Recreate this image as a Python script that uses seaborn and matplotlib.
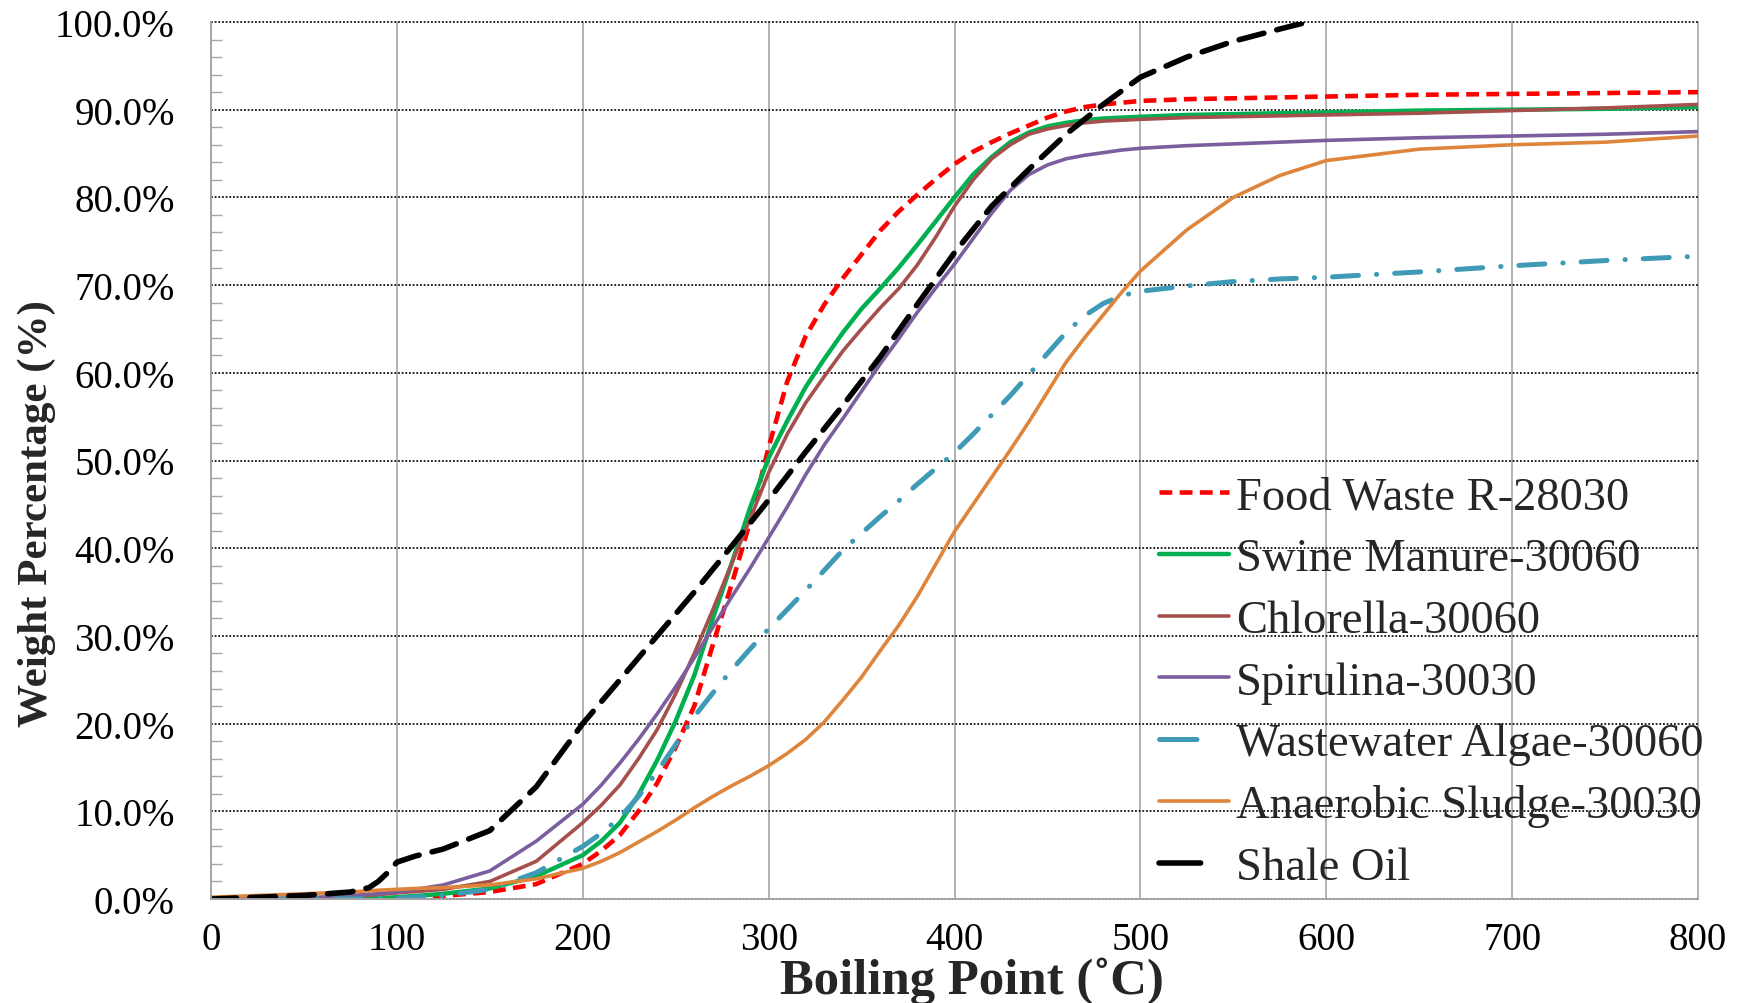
import matplotlib
matplotlib.use("Agg")
import matplotlib.pyplot as plt
from matplotlib.lines import Line2D
from matplotlib.ticker import MultipleLocator, FuncFormatter
import seaborn as sns
import pandas as pd

# ---------------- data ----------------
temp = [0, 25, 50, 75, 90, 100, 110, 125, 150, 175, 200, 210, 220, 230, 240, 250, 260, 270,
        280, 290, 300, 310, 320, 330, 340, 350, 360, 370, 380, 390, 400, 410, 420, 430, 440,
        450, 460, 470, 480, 490, 500, 525, 550, 575, 600, 650, 700, 750, 800]

food_waste = [0, 0, 0, 0, 0, 0.1, 0.2, 0.35, 0.8, 1.7, 4.0, 5.5, 7.3, 10.0, 13.2, 17.3, 22.0,
              29.0, 35.8, 43.0, 51.5, 59.0, 64.2, 67.8, 70.8, 73.5, 76.2, 78.4, 80.3, 82.1,
              83.8, 85.2, 86.3, 87.3, 88.2, 89.1, 89.8, 90.3, 90.6, 90.8, 91.0, 91.2, 91.3,
              91.4, 91.5, 91.7, 91.8, 91.9, 92.0]
swine_manure = [0, 0, 0, 0, 0.1, 0.2, 0.35, 0.6, 1.2, 2.6, 5.0, 6.6, 8.7, 11.9, 15.8, 20.3,
                25.5, 32.0, 38.2, 44.6, 50.3, 54.5, 58.4, 61.6, 64.6, 67.3, 69.6, 72.0, 74.6,
                77.3, 80.0, 82.6, 84.6, 86.3, 87.4, 88.1, 88.5, 88.8, 89.0, 89.1, 89.2, 89.4,
                89.5, 89.6, 89.7, 89.9, 90.0, 90.1, 90.3]
chlorella = [0, 0, 0.1, 0.3, 0.5, 0.7, 0.85, 1.1, 2.0, 4.3, 8.7, 10.7, 13.0, 16.0, 19.3, 23.4,
             28.0, 33.0, 38.2, 43.3, 48.6, 53.0, 56.6, 59.6, 62.5, 65.0, 67.4, 69.6, 72.3,
             75.5, 79.0, 82.0, 84.4, 86.0, 87.2, 87.8, 88.2, 88.5, 88.7, 88.8, 88.9, 89.1,
             89.2, 89.3, 89.4, 89.6, 89.9, 90.2, 90.6]
spirulina = [0, 0, 0.1, 0.4, 0.6, 0.8, 1.1, 1.6, 3.2, 6.6, 10.8, 13.0, 15.5, 18.2, 21.1, 24.2,
             27.5, 31.0, 34.4, 37.7, 41.2, 44.7, 48.4, 51.8, 54.8, 57.9, 61.0, 63.9, 66.9,
             69.7, 72.4, 75.3, 78.2, 80.8, 82.6, 83.7, 84.4, 84.8, 85.1, 85.4, 85.6, 85.9,
             86.1, 86.3, 86.5, 86.8, 87.0, 87.2, 87.5]
wastewater_algae = [0, 0, 0, 0, 0.1, 0.1, 0.2, 0.4, 1.1, 3.0, 6.0, 7.5, 9.3, 11.7, 14.5, 17.6,
                    20.8, 23.5, 26.1, 28.5, 30.8, 33.0, 35.2, 37.5, 39.8, 41.7, 43.6, 45.4,
                    47.3, 49.1, 50.9, 53.0, 55.2, 57.4, 59.8, 62.2, 64.6, 66.5, 67.9, 68.8,
                    69.3, 69.9, 70.4, 70.7, 70.9, 71.5, 72.2, 72.8, 73.3]
anaerobic_sludge = [0.2, 0.4, 0.6, 0.8, 1.0, 1.1, 1.2, 1.3, 1.6, 2.3, 3.5, 4.3, 5.3, 6.5, 7.7,
                    9.0, 10.4, 11.7, 12.9, 14.0, 15.2, 16.6, 18.2, 20.2, 22.7, 25.3, 28.3,
                    31.2, 34.5, 38.2, 41.9, 45.0, 48.1, 51.2, 54.4, 57.8, 61.2, 64.0, 66.6,
                    69.2, 71.6, 76.3, 80.0, 82.5, 84.2, 85.5, 86.0, 86.3, 87.0]

shale_temp = [0, 25, 50, 75, 85, 90, 95, 100, 110, 125, 150, 175, 200, 220, 240, 260, 280,
              300, 320, 340, 360, 380, 400, 420, 440, 460, 480, 500, 525, 550, 575, 590]
shale_oil = [0, 0.2, 0.4, 0.8, 1.3, 2.0, 3.0, 4.2, 4.9, 5.7, 7.8, 12.8, 20.0, 25.0, 30.0,
             35.0, 40.2, 45.5, 51.0, 56.3, 61.8, 67.8, 73.7, 79.0, 83.2, 87.2, 90.6, 93.7,
             96.0, 97.8, 99.2, 100.0]

labels = ["Food Waste R-28030", "Swine Manure-30060", "Chlorella-30060",
          "Spirulina-30030", "Wastewater Algae-30060", "Anaerobic Sludge-30030", "Shale Oil"]
yticks = [0, 10, 20, 30, 40, 50, 60, 70, 80, 90, 100]
xticks = [0, 100, 200, 300, 400, 500, 600, 700, 800]

# ---------------- styling ----------------
sns.set_style("white")
plt.rcParams["font.family"] = ["Liberation Serif", "DejaVu Serif"]

fig = plt.figure(figsize=(17.48, 10.04), dpi=100)
ax = fig.add_axes([211 / 1748, 1 - 900 / 1004, (1698 - 211) / 1748, (900 - 23) / 1004])

colors = ["#FF0000", "#00B050", "#A5504D", "#7A5E9E", "#3F9BB5", "#DE853B", "#000000"]
widths = [3.3, 3.2, 2.6, 2.6, 3.6, 2.6, 4.0]
styles = [
    dict(dashes=(2.8, 1.6), cap="butt"),
    {}, {}, {},
    dict(dashes=(5.2, 3.6, 0.05, 3.6), cap="round"),
    {},
    dict(dashes=(4.6, 2.4), cap="round"),
]
data = [(temp, food_waste), (temp, swine_manure), (temp, chlorella), (temp, spirulina),
        (temp, wastewater_algae), (temp, anaerobic_sludge), (shale_temp, shale_oil)]

for (xs, ys), col, lw, sty in zip(data, colors, widths, styles):
    df = pd.DataFrame({"T": xs, "W": ys})
    sns.lineplot(data=df, x="T", y="W", ax=ax, color=col, linewidth=lw,
                 sort=False, estimator=None, legend=False)
    ln = ax.lines[-1]
    ln.set_solid_joinstyle("round")
    ln.set_dash_joinstyle("round")
    if "dashes" in sty:
        ln.set_dashes(sty["dashes"])
        ln.set_dash_capstyle(sty["cap"])
    ln.set_solid_capstyle("round")

ax.set_xlim(0, 800)
ax.set_ylim(0, 100)
ax.set_xticks(xticks)
ax.set_yticks(yticks)
ax.yaxis.set_minor_locator(MultipleLocator(2))
ax.yaxis.set_major_formatter(FuncFormatter(lambda v, p: f"{v:.1f}%"))

ax.set_axisbelow(True)
ax.grid(axis="x", color="#A6A6A6", linewidth=1.2, linestyle="-")
ax.grid(axis="y", color="black", linewidth=1.2, linestyle=(0, (1.1, 1.1)))
for gl in ax.get_ygridlines() + ax.get_xgridlines():
    gl.set_clip_on(False)

for side in ["top", "right"]:
    ax.spines[side].set_visible(False)
for side in ["left", "bottom"]:
    ax.spines[side].set_color("#A6A6A6")
    ax.spines[side].set_linewidth(1.3)

ax.tick_params(axis="y", which="major", length=0, pad=26, labelsize=28, colors="black")
ax.tick_params(axis="y", which="minor", direction="in", length=8, width=1.0,
               color="#A6A6A6", left=True)
ax.tick_params(axis="x", which="major", length=0, pad=16, labelsize=28, colors="black")

ax.set_xlabel("Boiling Point (˚C)", fontsize=36.5, fontweight="bold")
ax.set_ylabel("Weight Percentage (%)", fontsize=31, fontweight="bold")
ax.xaxis.set_label_coords(0.512, -0.066)
ax.yaxis.set_label_coords(-0.104, 0.441)

# ---------------- legend ----------------
handles = []
for col, lw, sty in zip(colors, widths, styles):
    if "dashes" in sty and len(sty["dashes"]) == 2 and sty["cap"] == "butt":
        h = Line2D([], [], color=col, linewidth=lw, dashes=sty["dashes"], dash_capstyle="butt")
    elif "dashes" in sty:
        h = Line2D([], [], color=col, linewidth=lw, dashes=(7.5, 20), dash_capstyle="round")
    else:
        h = Line2D([], [], color=col, linewidth=lw)
    handles.append(h)

leg = fig.legend(handles, labels, loc="upper left", bbox_to_anchor=(1159 / 1748, 1 - 477 / 1004),
                 frameon=False, fontsize=33.5, handlelength=1.5, handletextpad=0.15,
                 labelspacing=0.41, borderpad=0, borderaxespad=0)

fig.savefig("out.png", dpi=100, facecolor="white")
